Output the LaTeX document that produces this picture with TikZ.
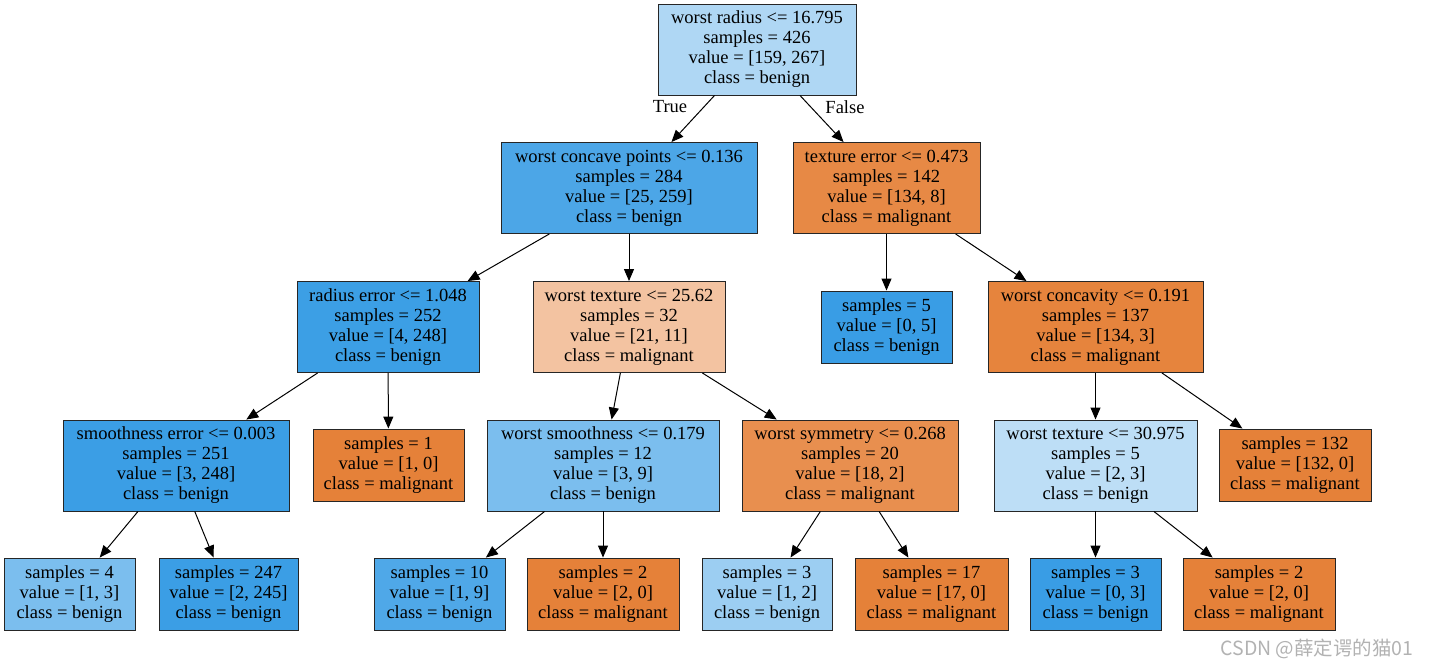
\documentclass[tikz,border=0pt]{standalone}
\usepackage{fontspec}
\setmainfont{Liberation Serif}
\newfontfamily\cjkfont{Noto Sans CJK SC}
\usetikzlibrary{arrows.meta}
\definecolor{cA}{RGB}{175,215,244}
\definecolor{cB}{RGB}{76,166,231}
\definecolor{cC}{RGB}{231,137,69}
\definecolor{cD}{RGB}{60,159,229}
\definecolor{cE}{RGB}{243,195,161}
\definecolor{cF}{RGB}{57,157,229}
\definecolor{cG}{RGB}{230,132,61}
\definecolor{cH}{RGB}{59,158,229}
\definecolor{cI}{RGB}{229,129,57}
\definecolor{cJ}{RGB}{123,190,238}
\definecolor{cK}{RGB}{232,143,79}
\definecolor{cL}{RGB}{189,222,246}
\definecolor{cM}{RGB}{79,168,232}
\definecolor{cN}{RGB}{156,206,242}
\tikzset{
  tnode/.style={draw=black!85, line width=0.9pt, rectangle, align=center, inner sep=0pt,
    font=\fontsize{18.5}{20}\selectfont, text=black},
  big/.style={minimum height=91pt},
  small/.style={minimum height=72pt},
  edge/.style={draw=black, line width=1pt, -{Triangle[length=12pt,width=10pt]}},
  lbl/.style={font=\fontsize{18.5}{20}\selectfont, text=black, inner sep=0pt}
}
\begin{document}
\begin{tikzpicture}[x=1pt,y=-1pt]
\useasboundingbox (0,0) rectangle (1431,668);
% level 0
\node[tnode, big, minimum width=198pt, fill=cA] (root) at (757,49.5) {worst radius <= 16.795\\samples = 426\\value = [159, 267]\\class = benign};
% level 1
\node[tnode, big, minimum width=256pt, fill=cB] (L) at (629,188) {worst concave points <= 0.136\\samples = 284\\value = [25, 259]\\class = benign};
\node[tnode, big, minimum width=187pt, fill=cC] (R) at (886.5,188) {texture error <= 0.473\\samples = 142\\value = [134, 8]\\class = malignant};
% level 2
\node[tnode, big, minimum width=182pt, fill=cD] (LL) at (388,327) {radius error <= 1.048\\samples = 252\\value = [4, 248]\\class = benign};
\node[tnode, big, minimum width=192pt, fill=cE] (LR) at (629,327) {worst texture <= 25.62\\samples = 32\\value = [21, 11]\\class = malignant};
\node[tnode, small, minimum width=131pt, fill=cF] (RL) at (886.5,327) {samples = 5\\value = [0, 5]\\class = benign};
\node[tnode, big, minimum width=215pt, fill=cG] (RR) at (1095.5,327) {worst concavity <= 0.191\\samples = 137\\value = [134, 3]\\class = malignant};
% level 3
\node[tnode, big, minimum width=226pt, fill=cH] (LLL) at (176,465.5) {smoothness error <= 0.003\\samples = 251\\value = [3, 248]\\class = benign};
\node[tnode, small, minimum width=151pt, fill=cI] (LLR) at (388.5,465) {samples = 1\\value = [1, 0]\\class = malignant};
\node[tnode, big, minimum width=232pt, fill=cJ] (LRL) at (603,465.5) {worst smoothness <= 0.179\\samples = 12\\value = [3, 9]\\class = benign};
\node[tnode, big, minimum width=216pt, fill=cK] (LRR) at (850,465.5) {worst symmetry <= 0.268\\samples = 20\\value = [18, 2]\\class = malignant};
\node[tnode, big, minimum width=203pt, fill=cL] (RRL) at (1095.5,465.5) {worst texture <= 30.975\\samples = 5\\value = [2, 3]\\class = benign};
\node[tnode, small, minimum width=152pt, fill=cI] (RRR) at (1295,465) {samples = 132\\value = [132, 0]\\class = malignant};
% level 4
\node[tnode, small, minimum width=131pt, fill=cJ] (a) at (69.5,594) {samples = 4\\value = [1, 3]\\class = benign};
\node[tnode, small, minimum width=139pt, fill=cH] (b) at (228.5,594) {samples = 247\\value = [2, 245]\\class = benign};
\node[tnode, small, minimum width=131pt, fill=cM] (c) at (439.5,594) {samples = 10\\value = [1, 9]\\class = benign};
\node[tnode, small, minimum width=152pt, fill=cI] (d) at (603,594) {samples = 2\\value = [2, 0]\\class = malignant};
\node[tnode, small, minimum width=130pt, fill=cN] (e) at (767,594) {samples = 3\\value = [1, 2]\\class = benign};
\node[tnode, small, minimum width=153pt, fill=cI] (f) at (931.5,594) {samples = 17\\value = [17, 0]\\class = malignant};
\node[tnode, small, minimum width=131pt, fill=cF] (g) at (1095.5,594) {samples = 3\\value = [0, 3]\\class = benign};
\node[tnode, small, minimum width=152pt, fill=cI] (h) at (1259,594) {samples = 2\\value = [2, 0]\\class = malignant};
% edges
\draw[edge] (root) -- (L);
\draw[edge] (root) -- (R);
\draw[edge] (L) -- (LL);
\draw[edge] (L) -- (LR);
\draw[edge] (R) -- (RL);
\draw[edge] (R) -- (RR);
\draw[edge] (LL) -- (LLL);
\draw[edge] (LL) -- (LLR);
\draw[edge] (LR) -- (LRL);
\draw[edge] (LR) -- (LRR);
\draw[edge] (RR) -- (RRL);
\draw[edge] (RR) -- (RRR);
\draw[edge] (LLL) -- (a);
\draw[edge] (LLL) -- (b);
\draw[edge] (LRL) -- (c);
\draw[edge] (LRL) -- (d);
\draw[edge] (LRR) -- (e);
\draw[edge] (LRR) -- (f);
\draw[edge] (RRL) -- (g);
\draw[edge] (RRL) -- (h);
% edge labels
\node[lbl] (tlbl) at (670,107) {True};
\node[lbl] (flbl) at (845,107) {False};
% watermark
\node[font=\cjkfont\fontsize{19.5}{22}\selectfont, text=black!30, inner sep=0pt] (wm) at (1317,649) {CSDN @薛定谔的猫01};
\end{tikzpicture}
\end{document}
